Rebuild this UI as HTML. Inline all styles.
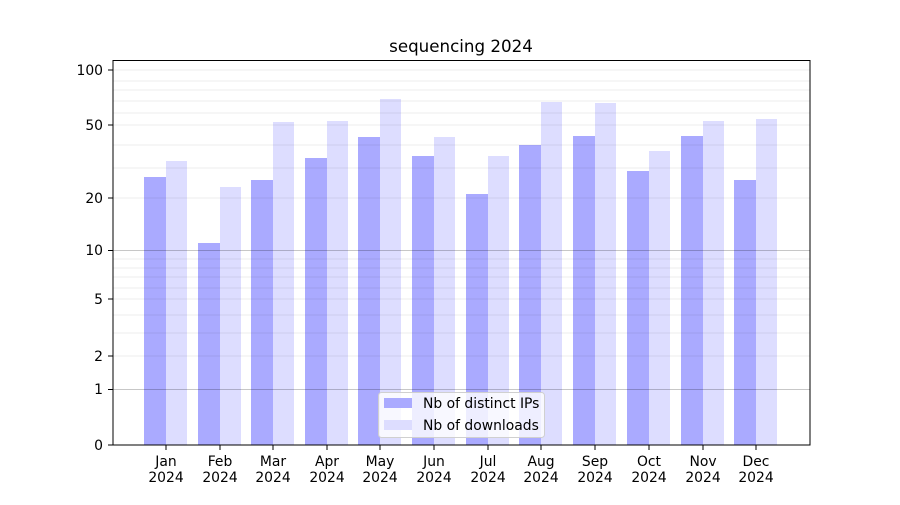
<!DOCTYPE html>
<html><head><meta charset="utf-8"><style>body{margin:0;background:#fff}</style></head><body>
<svg width="900" height="500" xmlns="http://www.w3.org/2000/svg" font-family="DejaVu Sans, Liberation Sans, sans-serif" font-size="13.9">
<rect width="900" height="500" fill="#fff"/>
<g fill="#aaaaff">
<rect x="144" y="177" width="22" height="268"/><rect x="198" y="243" width="22" height="202"/>
<rect x="251" y="180" width="22" height="265"/><rect x="305" y="158" width="22" height="287"/>
<rect x="358" y="137" width="22" height="308"/><rect x="412" y="156" width="22" height="289"/>
<rect x="466" y="194" width="22" height="251"/><rect x="519" y="145" width="22" height="300"/>
<rect x="573" y="136" width="22" height="309"/><rect x="627" y="171" width="22" height="274"/>
<rect x="681" y="136" width="22" height="309"/><rect x="734" y="180" width="22" height="265"/>
</g>
<g fill="#ddddff">
<rect x="166" y="161" width="21" height="284"/><rect x="220" y="187" width="21" height="258"/>
<rect x="273" y="122" width="21" height="323"/><rect x="327" y="121" width="21" height="324"/>
<rect x="380" y="99" width="21" height="346"/><rect x="434" y="137" width="21" height="308"/>
<rect x="488" y="156" width="21" height="289"/><rect x="541" y="102" width="21" height="343"/>
<rect x="595" y="103" width="21" height="342"/><rect x="649" y="151" width="21" height="294"/>
<rect x="703" y="121" width="21" height="324"/><rect x="756" y="119" width="21" height="326"/>
</g>
<g stroke="#000" stroke-opacity="0.07" stroke-width="1">
<line x1="113" x2="810" y1="333" y2="333"/><line x1="113" x2="810" y1="315" y2="315"/>
<line x1="113" x2="810" y1="288" y2="288"/><line x1="113" x2="810" y1="277" y2="277"/>
<line x1="113" x2="810" y1="268" y2="268"/><line x1="113" x2="810" y1="259" y2="259"/>
<line x1="113" x2="810" y1="168" y2="168"/><line x1="113" x2="810" y1="145" y2="145"/>
<line x1="113" x2="810" y1="113" y2="113"/><line x1="113" x2="810" y1="101" y2="101"/>
<line x1="113" x2="810" y1="90" y2="90"/><line x1="113" x2="810" y1="81" y2="81"/>
<line x1="113" x2="810" y1="356" y2="356"/><line x1="113" x2="810" y1="299" y2="299"/>
<line x1="113" x2="810" y1="198" y2="198"/><line x1="113" x2="810" y1="125" y2="125"/>
<line x1="113" x2="810" y1="70" y2="70"/>
</g>
<g stroke="#000" stroke-opacity="0.22"><line x1="113" x2="810" y1="389.5" y2="389.5"/><line x1="113" x2="810" y1="250.5" y2="250.5"/></g>
<rect x="113" y="60.5" width="697" height="384.5" fill="none" stroke="#000"/>
<g stroke="#000">
<line x1="108" x2="113" y1="445" y2="445"/><line x1="108" x2="113" y1="389.5" y2="389.5"/>
<line x1="108" x2="113" y1="356" y2="356"/><line x1="108" x2="113" y1="299" y2="299"/>
<line x1="108" x2="113" y1="250.5" y2="250.5"/><line x1="108" x2="113" y1="198" y2="198"/>
<line x1="108" x2="113" y1="125" y2="125"/><line x1="108" x2="113" y1="70" y2="70"/>
</g>
<g text-anchor="end">
<text x="103" y="450">0</text><text x="103" y="394">1</text><text x="103" y="361">2</text>
<text x="103" y="304">5</text><text x="103" y="255">10</text><text x="103" y="203">20</text>
<text x="103" y="130">50</text><text x="103" y="75">100</text>
</g>
<g text-anchor="middle">
<text x="166" y="466">Jan</text><text x="166" y="482">2024</text>
<text x="220" y="466">Feb</text><text x="220" y="482">2024</text>
<text x="273" y="466">Mar</text><text x="273" y="482">2024</text>
<text x="327" y="466">Apr</text><text x="327" y="482">2024</text>
<text x="380" y="466">May</text><text x="380" y="482">2024</text>
<text x="434" y="466">Jun</text><text x="434" y="482">2024</text>
<text x="488" y="466">Jul</text><text x="488" y="482">2024</text>
<text x="541" y="466">Aug</text><text x="541" y="482">2024</text>
<text x="595" y="466">Sep</text><text x="595" y="482">2024</text>
<text x="649" y="466">Oct</text><text x="649" y="482">2024</text>
<text x="703" y="466">Nov</text><text x="703" y="482">2024</text>
<text x="756" y="466">Dec</text><text x="756" y="482">2024</text>
<text x="461" y="52" font-size="16.7">sequencing 2024</text>
</g>
<g stroke="#000"><line x1="166" x2="166" y1="445" y2="450"/><line x1="220" x2="220" y1="445" y2="450"/><line x1="273" x2="273" y1="445" y2="450"/><line x1="327" x2="327" y1="445" y2="450"/><line x1="380" x2="380" y1="445" y2="450"/><line x1="434" x2="434" y1="445" y2="450"/><line x1="488" x2="488" y1="445" y2="450"/><line x1="541" x2="541" y1="445" y2="450"/><line x1="595" x2="595" y1="445" y2="450"/><line x1="649" x2="649" y1="445" y2="450"/><line x1="703" x2="703" y1="445" y2="450"/><line x1="756" x2="756" y1="445" y2="450"/></g>
<rect x="378.5" y="392.5" width="166" height="45" rx="3" fill="#fff" fill-opacity="0.8" stroke="#d0d0d0"/>
<rect x="384" y="398" width="28" height="10" fill="#aaaaff"/>
<rect x="384" y="420" width="28" height="10" fill="#ddddff"/>
<text x="423" y="408">Nb of distinct IPs</text>
<text x="423" y="430">Nb of downloads</text>
</svg>
</body></html>
